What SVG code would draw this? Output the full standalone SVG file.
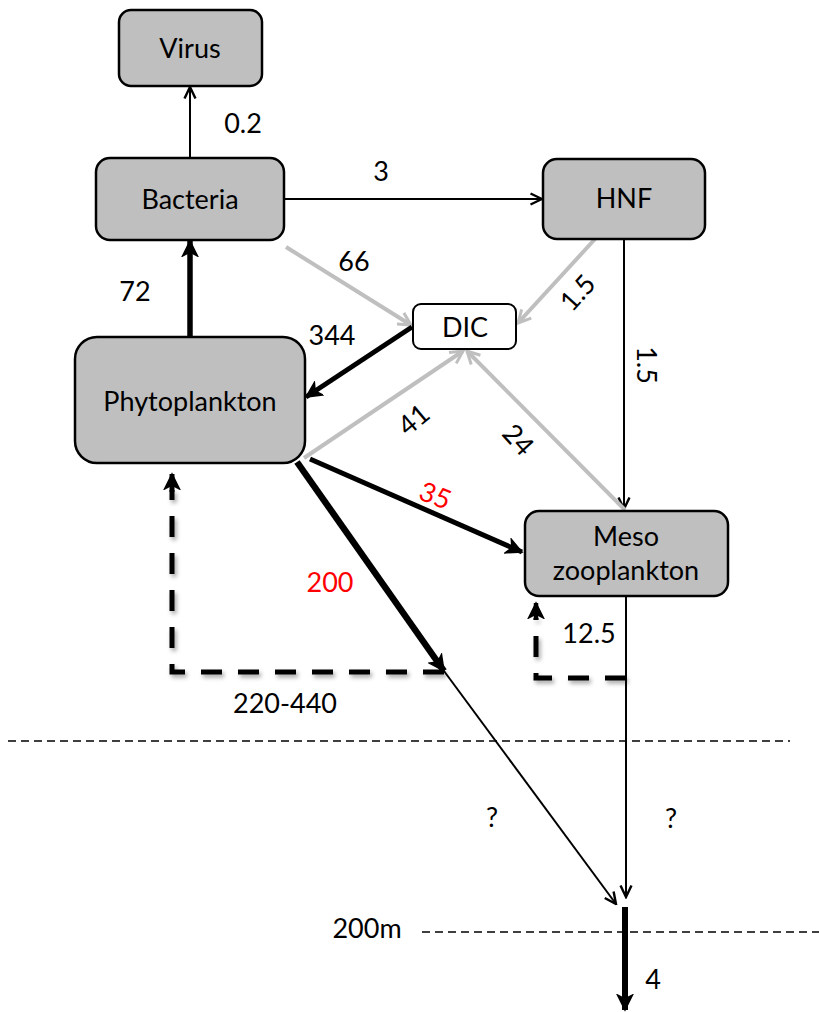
<svg xmlns="http://www.w3.org/2000/svg" width="819" height="1012" viewBox="0 0 819 1012">
<style>
.node{fill:#BFBFBF;stroke:#000;stroke-width:2.5}
.dic{fill:#fff;stroke:#000;stroke-width:2}
text{font-family:Lato,"Open Sans","Liberation Sans",sans-serif;font-size:27px;fill:#000;text-anchor:middle}
.red{fill:#FF0000}
.k{stroke:#000;fill:none}
.g{stroke:#BFBFBF;fill:none;stroke-width:4}
.dash{stroke:#000;fill:none;stroke-width:5;stroke-dasharray:21 16}
.hl{stroke:#000;fill:none;stroke-width:1.3;stroke-dasharray:8 5}
</style>
<defs>
<marker id="ak" markerUnits="userSpaceOnUse" viewBox="0 0 14 14" refX="12.5" refY="7" markerWidth="14" markerHeight="14" orient="auto">
<path d="M1,1.5 L12.5,7 L1,12.5" fill="none" stroke="#000" stroke-width="2.4"/>
</marker>
<marker id="akb" markerUnits="userSpaceOnUse" viewBox="0 0 18 18" refX="16" refY="9" markerWidth="18" markerHeight="18" orient="auto">
<path d="M1,1.5 L16,9 L1,16.5 L5,9 z" fill="#000" stroke="#000" stroke-width="1.5" stroke-linejoin="miter"/>
</marker>
<marker id="ag" markerUnits="userSpaceOnUse" viewBox="0 0 16 16" refX="14" refY="8" markerWidth="16" markerHeight="16" orient="auto">
<path d="M1.5,1.5 L14,8 L1.5,14.5" fill="none" stroke="#BFBFBF" stroke-width="3"/>
</marker>
<filter id="sh" x="-10%" y="-10%" width="130%" height="130%">
<feDropShadow dx="2" dy="3" stdDeviation="2" flood-color="#000" flood-opacity="0.35"/>
</filter>
</defs>

<g id="connectors">
<line class="k" x1="190" y1="158" x2="190" y2="87" stroke-width="2" marker-end="url(#ak)"/>
<line class="k" x1="284" y1="199" x2="542" y2="199" stroke-width="2" marker-end="url(#ak)"/>
<line class="k" x1="190" y1="337" x2="190" y2="241" stroke-width="5.5" marker-end="url(#akb)"/>
<line class="g" x1="286" y1="247" x2="411" y2="325" marker-end="url(#ag)"/>
<line class="g" x1="595" y1="239" x2="518" y2="323" marker-end="url(#ag)"/>
<line class="k" x1="624" y1="239" x2="624" y2="509" stroke-width="2" marker-end="url(#ak)"/>
<line class="k" x1="412" y1="327" x2="306" y2="397" stroke-width="5" marker-end="url(#akb)"/>
<line class="g" x1="304" y1="458" x2="463" y2="351" marker-end="url(#ag)"/>
<line class="g" x1="625" y1="510" x2="467" y2="351" marker-end="url(#ag)"/>
<line class="k" x1="310" y1="459" x2="522" y2="552" stroke-width="5" marker-end="url(#akb)"/>
<line class="k" x1="297" y1="462" x2="444" y2="671" stroke-width="6.5" marker-end="url(#akb)"/>
<line class="k" x1="444" y1="671" x2="616" y2="904" stroke-width="2" marker-end="url(#ak)"/>
<path class="dash" filter="url(#sh)" d="M444,672 H172 V490"/>
<line class="k" x1="172" y1="492" x2="172" y2="474" stroke-width="5" marker-end="url(#akb)"/>
<path class="dash" filter="url(#sh)" d="M626,678 H536 V618" stroke-dasharray="20 14"/>
<line class="k" x1="536" y1="620" x2="536" y2="603" stroke-width="4.5" marker-end="url(#akb)"/>
<line class="k" x1="626" y1="596" x2="626" y2="897" stroke-width="2" marker-end="url(#ak)"/>
<line class="k" x1="625" y1="907" x2="625" y2="1010" stroke-width="6" marker-end="url(#akb)"/>
<line class="hl" x1="8" y1="741" x2="790" y2="741"/>
<line class="hl" x1="422" y1="932" x2="819" y2="932"/>
</g>

<g id="virus"><rect class="node" x="119" y="10" width="143" height="76" rx="12"/><text x="190" y="58">Virus</text></g>
<g id="bacteria"><rect class="node" x="96" y="158" width="188" height="82" rx="14"/><text x="190" y="209">Bacteria</text></g>
<g id="hnf"><rect class="node" x="543" y="159" width="162" height="80" rx="14"/><text x="624" y="208">HNF</text></g>
<g id="dic"><rect class="dic" x="413" y="304" width="103" height="45" rx="8"/><text x="465" y="337">DIC</text></g>
<g id="phytoplankton"><rect class="node" x="75" y="337" width="230" height="126" rx="22"/><text x="190" y="411">Phytoplankton</text></g>
<g id="mesozooplankton"><rect class="node" x="525" y="511" width="203" height="85" rx="14"/><text x="626" y="546">Meso</text><text x="626" y="580">zooplankton</text></g>

<g id="labels">
<text x="243" y="133">0.2</text>
<text x="381" y="181">3</text>
<text x="354" y="271">66</text>
<text transform="translate(578,293) rotate(-48)" y="9">1.5</text>
<text transform="translate(646,365) rotate(90)" y="9">1.5</text>
<text x="135" y="301">72</text>
<text x="332" y="345">344</text>
<text transform="translate(414,420) rotate(-40)" y="9">41</text>
<text transform="translate(518,440) rotate(48)" y="9">24</text>
<text class="red" transform="translate(435,496) rotate(22)" y="9">35</text>
<text class="red" x="330" y="592">200</text>
<text x="285" y="713">220-440</text>
<text x="589" y="643">12.5</text>
<text x="492" y="827">?</text>
<text x="671" y="828">?</text>
<text x="367" y="938">200m</text>
<text x="653" y="989">4</text>
</g>
</svg>
